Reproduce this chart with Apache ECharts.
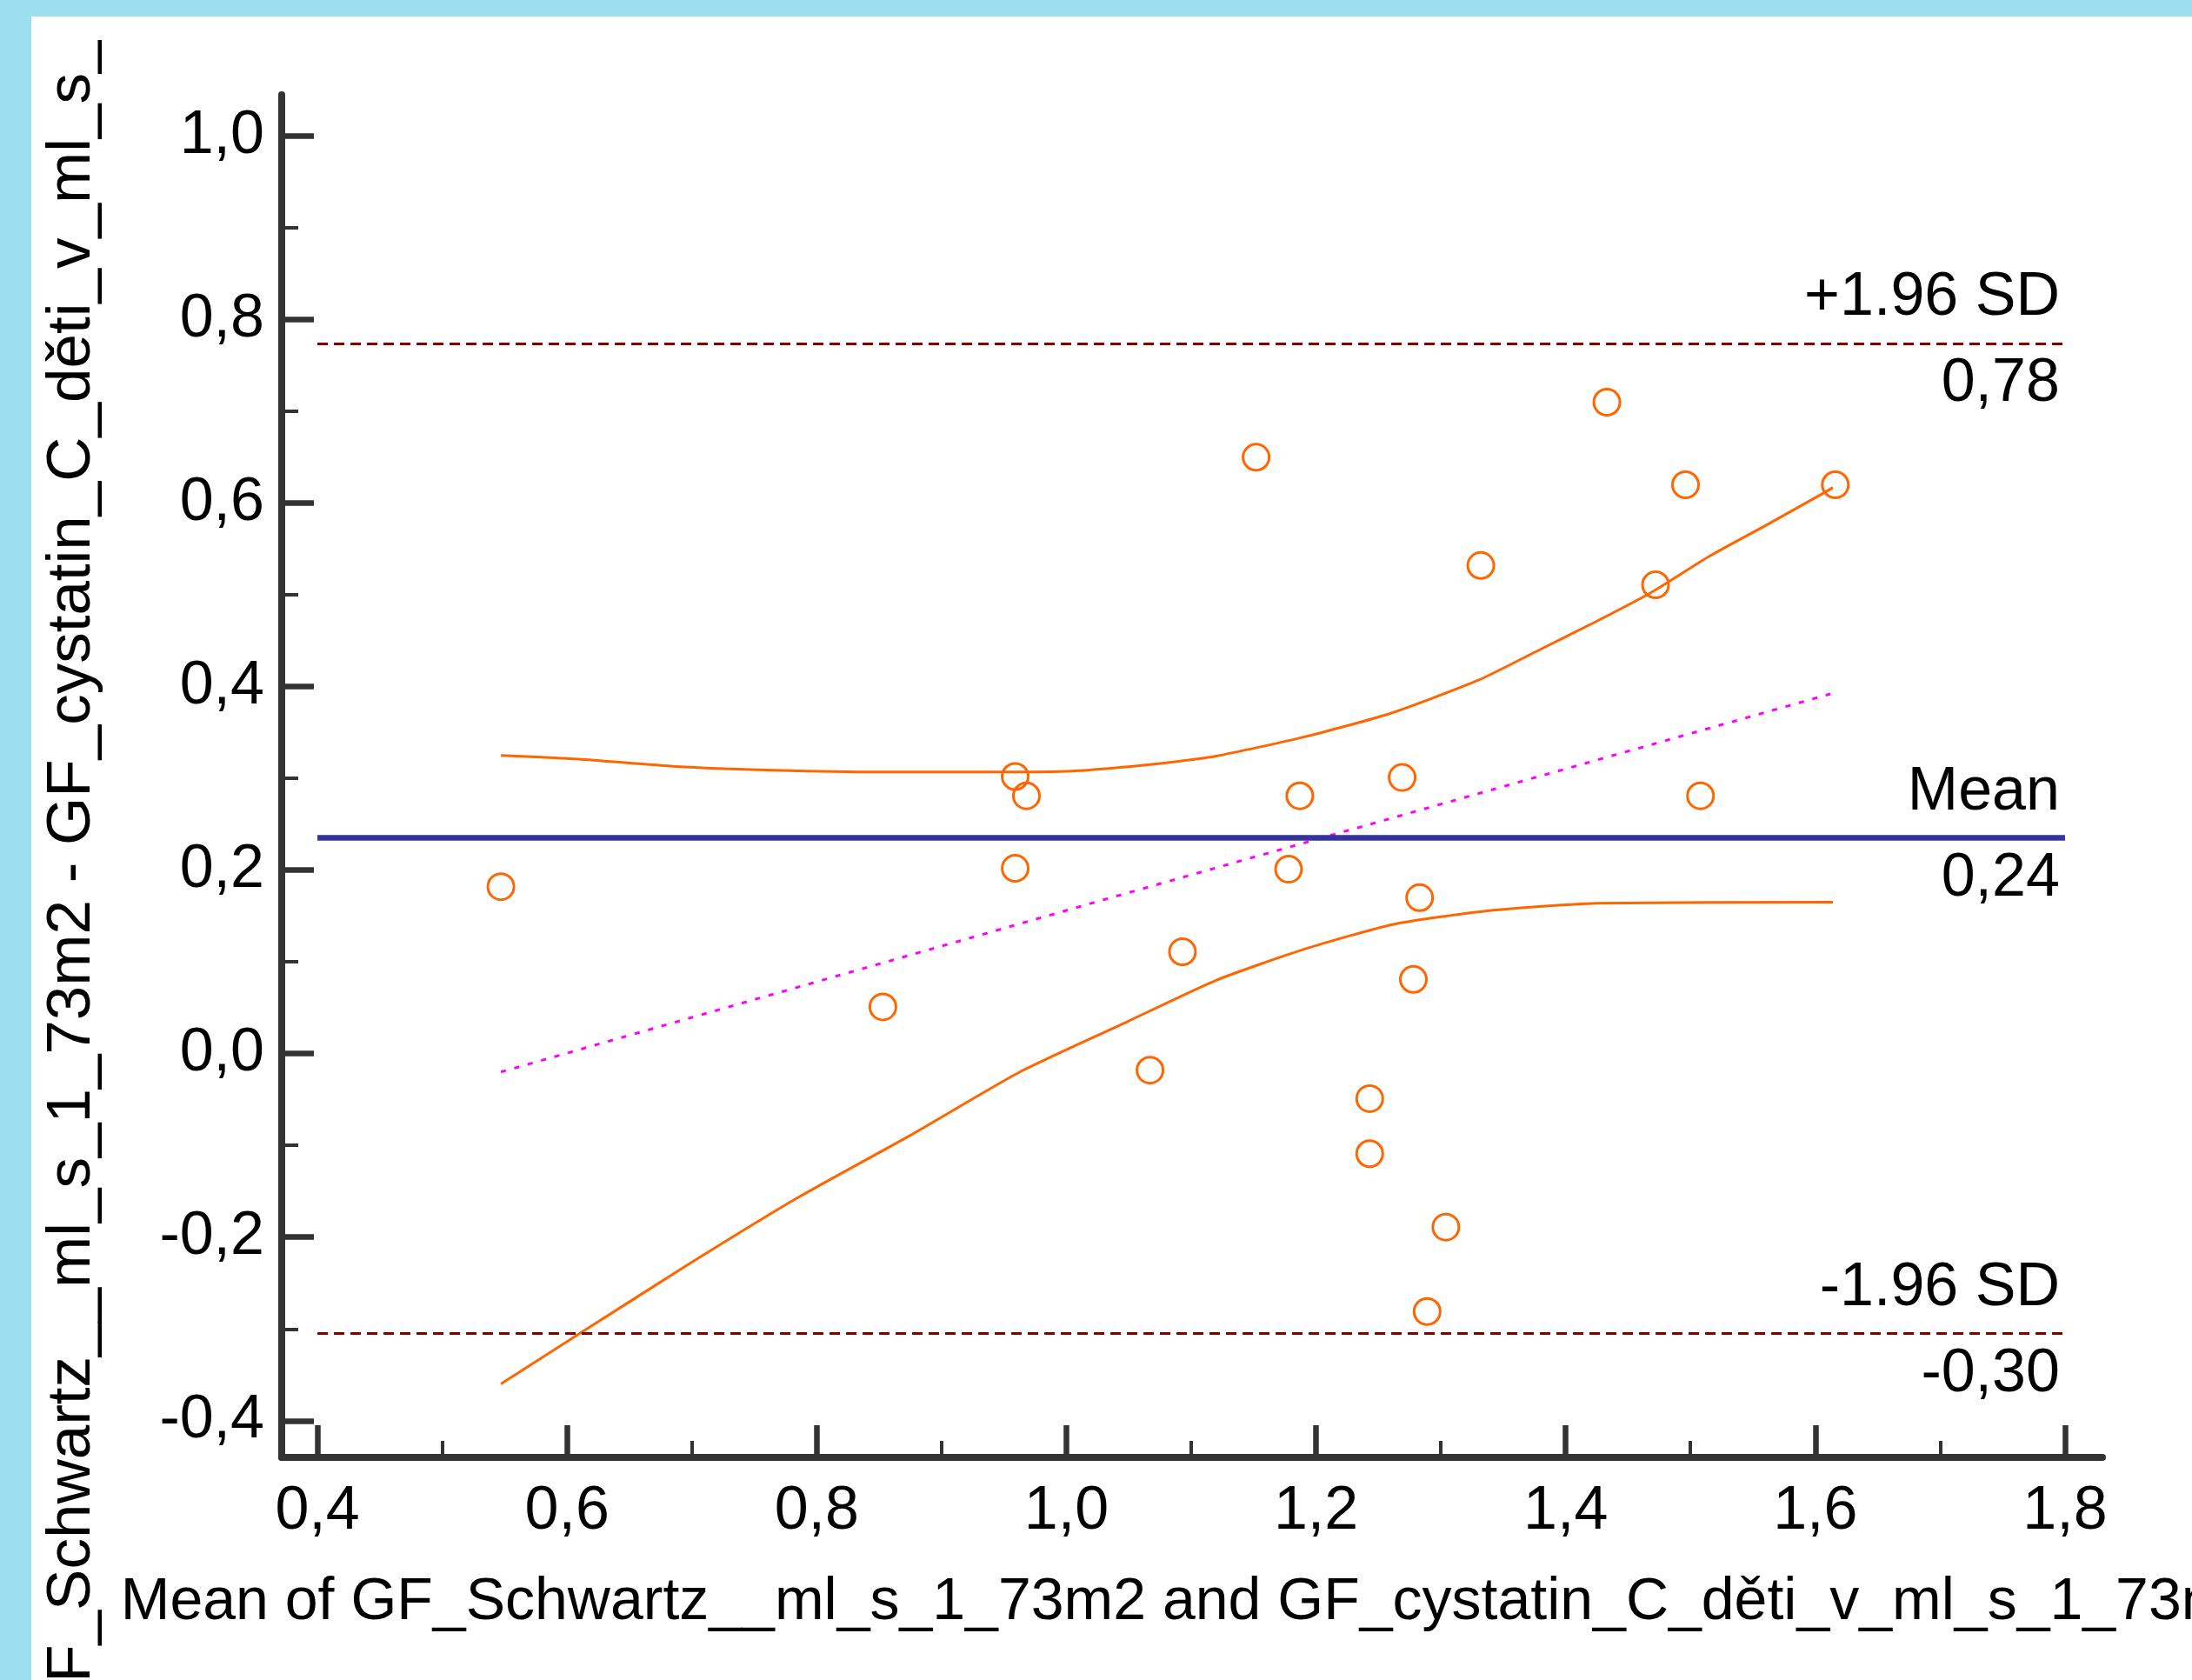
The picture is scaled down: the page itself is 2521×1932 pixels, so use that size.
<!DOCTYPE html>
<html>
<head>
<meta charset="utf-8">
<script src="https://cdn.jsdelivr.net/npm/echarts@6.0.0/dist/echarts.min.js"></script>
<style>
html,body{margin:0;padding:0;background:#9DDFEF;}
#chart{width:2521px;height:1932px;}
</style>
</head>
<body>
<div id="chart"></div>
<script>
// ---- data ----
const meanValues = [0.547, 0.853, 0.959, 0.968, 0.959, 1.067, 1.093, 1.152, 1.178, 1.187, 1.243, 1.243, 1.269, 1.278, 1.283, 1.289, 1.304, 1.332, 1.433, 1.472, 1.496, 1.508, 1.616];
const diffValues = [0.182, 0.051, 0.302, 0.281, 0.202, -0.018, 0.111, 0.650, 0.201, 0.281, -0.049, -0.109, 0.301, 0.081, 0.170, -0.281, -0.189, 0.532, 0.710, 0.511, 0.620, 0.281, 0.620];

const ciUpper = [[0.547, 0.325], [0.609, 0.321], [0.687, 0.313], [0.765, 0.309], [0.850, 0.307], [0.950, 0.307], [1.005, 0.308], [1.043, 0.312], [1.080, 0.317], [1.119, 0.324], [1.190, 0.345], [1.260, 0.371], [1.330, 0.407], [1.376, 0.438], [1.423, 0.470], [1.469, 0.503], [1.515, 0.542], [1.562, 0.577], [1.608, 0.612], [1.614, 0.617]];
const ciLower = [[0.547, -0.360], [0.609, -0.306], [0.698, -0.229], [0.786, -0.156], [0.875, -0.089], [0.964, -0.019], [1.049, 0.035], [1.120, 0.080], [1.191, 0.114], [1.262, 0.141], [1.333, 0.155], [1.425, 0.164], [1.614, 0.165]];
const regressionLine = [[0.547, -0.020], [1.077, 0.186], [1.612, 0.392]];

const limitValues = [0.774, 0.235, -0.305];
const limitNames = ['+1.96 SD', 'Mean', '-1.96 SD'];
const limitTexts = ['0,78', '0,24', '-0,30'];
const limitRange = [0.4, 1.8];

const xTicks = [0.4, 0.6, 0.8, 1.0, 1.2, 1.4, 1.6, 1.8];
const xMinorTicks = [0.5, 0.7, 0.9, 1.1, 1.3, 1.5, 1.7];
const yTicks = [-0.4, -0.2, 0.0, 0.2, 0.4, 0.6, 0.8, 1.0];
const yMinorTicks = [-0.3, -0.1, 0.1, 0.3, 0.5, 0.7, 0.9];

const xTitle = 'Mean of GF_Schwartz__ml_s_1_73m2 and GF_cystatin_C_děti_v_ml_s_1_73m2';
const yTitle = 'GF_Schwartz__ml_s_1_73m2 - GF_cystatin_C_děti_v_ml_s_1_73m2';

// ---- styling ----
const FONT = '"Liberation Sans", Arial, sans-serif';
const AXIS = '#333333';
const ORANGE = '#FF6600';
const fmt = v => Number(v).toFixed(1).replace('.', ',');

const xRange = { min: 0.3714, max: 1.830 };
const yRange = { min: -0.440, max: 1.045 };

const limitStyles = [
  { color: '#800000', width: 3, type: [12, 7] },
  { color: '#333399', width: 6.5, type: 'solid' },
  { color: '#800000', width: 3, type: [12, 7] }
];

const labelBase = { show: true, fontSize: 70, color: '#000', fontFamily: FONT, opacity: 1 };

const limitSeries = limitValues.map((v, i) => ({
  type: 'line',
  data: [],
  silent: true,
  markLine: {
    silent: true,
    symbol: ['none', 'none'],
    animation: false,
    data: [
      [
        { coord: [limitRange[0], v], lineStyle: limitStyles[i],
          label: Object.assign({}, labelBase, { position: 'insideEndTop', distance: [6, 17], formatter: limitNames[i] }) },
        { coord: [limitRange[1], v] }
      ],
      [
        { coord: [limitRange[0], v], lineStyle: { color: 'rgba(0,0,0,0)', width: 1, type: 'solid' },
          label: Object.assign({}, labelBase, { position: 'insideEndBottom', distance: [6, 12], formatter: limitTexts[i] }) },
        { coord: [limitRange[1], v] }
      ]
    ]
  }
}));

const chart = echarts.init(document.getElementById('chart'), null, { renderer: 'canvas', width: 2521, height: 1932 });

chart.setOption({
  animation: false,
  backgroundColor: '#9DDFEF',
  grid: { left: 324, right: 103, top: 109, bottom: 256, containLabel: false, outerBoundsMode: 'none' },
  xAxis: [
    {
      type: 'value', min: xRange.min, max: xRange.max,
      name: xTitle, nameLocation: 'middle', nameGap: 133,
      nameTextStyle: { fontSize: 68, color: '#000', fontFamily: FONT },
      axisLine: { show: true, onZero: false, lineStyle: { color: AXIS, width: 8 } },
      axisTick: { show: true, inside: true, length: 37, customValues: xTicks, lineStyle: { color: AXIS, width: 6.5 } },
      axisLabel: { show: true, customValues: xTicks, formatter: fmt, margin: 28, fontSize: 70, color: '#000', fontFamily: FONT },
      splitLine: { show: false }
    },
    {
      type: 'value', min: xRange.min, max: xRange.max, position: 'bottom',
      axisLine: { show: false, onZero: false },
      axisTick: { show: true, inside: true, length: 19, customValues: xMinorTicks, lineStyle: { color: AXIS, width: 4 } },
      axisLabel: { show: false },
      splitLine: { show: false }
    }
  ],
  yAxis: [
    {
      type: 'value', min: yRange.min, max: yRange.max,
      name: yTitle, nameLocation: 'middle', nameGap: 205,
      nameTextStyle: { fontSize: 71, color: '#000', fontFamily: FONT, padding: [0, 0, 0, 7] },
      axisLine: { show: true, onZero: false, lineStyle: { color: AXIS, width: 8 } },
      axisTick: { show: true, inside: true, length: 37, customValues: yTicks, lineStyle: { color: AXIS, width: 6.5 } },
      axisLabel: { show: true, customValues: yTicks, formatter: fmt, margin: 20, padding: [0, 0, 20, 0], fontSize: 70, color: '#000', fontFamily: FONT },
      splitLine: { show: false }
    },
    {
      type: 'value', min: yRange.min, max: yRange.max, position: 'left',
      axisLine: { show: false, onZero: false },
      axisTick: { show: true, inside: true, length: 19, customValues: yMinorTicks, lineStyle: { color: AXIS, width: 4 } },
      axisLabel: { show: false },
      splitLine: { show: false }
    }
  ],
  graphic: {
    elements: [
      { type: 'rect', silent: true, z: -10, shape: { x: 36, y: 19, width: 2485, height: 1913 }, style: { fill: '#ffffff' } },
      { type: 'rect', silent: true, z: 100, shape: { x: 36, y: 19, width: 220, height: 27 }, style: { fill: '#ffffff' } },
      { type: 'rect', silent: true, z: 100, shape: { x: 0, y: 0, width: 2521, height: 19 }, style: { fill: '#9DDFEF' } }
    ]
  },
  series: [
    ...limitSeries,
    {
      type: 'line', data: ciUpper, symbol: 'none', smooth: 0.2, silent: true,
      lineStyle: { color: ORANGE, width: 3 }
    },
    {
      type: 'line', data: ciLower, symbol: 'none', smooth: 0.2, silent: true,
      lineStyle: { color: ORANGE, width: 3 }
    },
    {
      type: 'line', data: regressionLine, symbol: 'none', silent: true,
      lineStyle: { color: '#FF00FF', width: 3, type: [6, 10] }
    },
    {
      type: 'scatter', z: 5, silent: true,
      data: meanValues.map((x, i) => [x, diffValues[i]]),
      symbol: 'circle', symbolSize: 30,
      itemStyle: { color: 'rgba(0,0,0,0)', borderColor: ORANGE, borderWidth: 3, opacity: 1 }
    }
  ]
});
</script>
</body>
</html>
